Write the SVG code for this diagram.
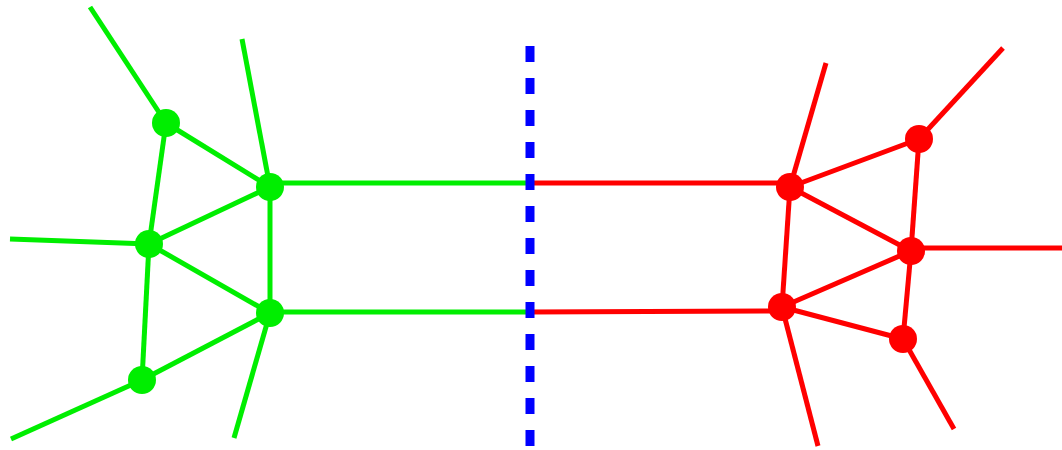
<svg xmlns="http://www.w3.org/2000/svg" width="1062" height="450" viewBox="0 0 1062 450">
<style>
.g{stroke:#00ee00;stroke-width:5;fill:none}
.r{stroke:#ff0000;stroke-width:5;fill:none}
.gn{fill:#00ee00}
.rn{fill:#ff0000}
.cut{stroke:#0000ff;stroke-width:9;stroke-dasharray:16 16;fill:none}
</style>
<rect width="1062" height="450" fill="#ffffff"/>
<g id="connectors">
<line class="g" x1="90" y1="7" x2="166" y2="123"/>
<line class="g" x1="242" y1="39" x2="270" y2="187"/>
<line class="g" x1="166" y1="123" x2="270" y2="187"/>
<line class="g" x1="166" y1="123" x2="149" y2="244"/>
<line class="g" x1="10" y1="239" x2="149" y2="244"/>
<line class="g" x1="149" y1="244" x2="270" y2="187"/>
<line class="g" x1="149" y1="244" x2="270" y2="313"/>
<line class="g" x1="149" y1="244" x2="142" y2="380"/>
<line class="g" x1="270" y1="187" x2="270" y2="313"/>
<line class="g" x1="270" y1="183" x2="530" y2="183"/>
<line class="g" x1="270" y1="312" x2="530" y2="312"/>
<line class="g" x1="270" y1="313" x2="234" y2="438"/>
<line class="g" x1="142" y1="380" x2="270" y2="313"/>
<line class="g" x1="142" y1="380" x2="11" y2="439"/>
<line class="r" x1="530" y1="183" x2="790" y2="183"/>
<line class="r" x1="530" y1="312" x2="782" y2="311"/>
<line class="r" x1="826" y1="63" x2="790" y2="187"/>
<line class="r" x1="919" y1="139" x2="1003" y2="48"/>
<line class="r" x1="790" y1="187" x2="919" y2="139"/>
<line class="r" x1="919" y1="139" x2="911" y2="251"/>
<line class="r" x1="790" y1="187" x2="911" y2="251"/>
<line class="r" x1="790" y1="187" x2="782" y2="307"/>
<line class="r" x1="911" y1="248" x2="1062" y2="248"/>
<line class="r" x1="911" y1="251" x2="782" y2="307"/>
<line class="r" x1="911" y1="251" x2="903" y2="339"/>
<line class="r" x1="782" y1="307" x2="903" y2="339"/>
<line class="r" x1="782" y1="307" x2="818" y2="446"/>
<line class="r" x1="903" y1="339" x2="954" y2="429"/>
<line class="cut" x1="530" y1="46" x2="530" y2="447"/>
</g>
<g id="g1"><circle class="gn" cx="166" cy="123" r="14"/></g>
<g id="g2"><circle class="gn" cx="270" cy="187" r="14"/></g>
<g id="g3"><circle class="gn" cx="149" cy="244" r="14"/></g>
<g id="g4"><circle class="gn" cx="270" cy="313" r="14"/></g>
<g id="g5"><circle class="gn" cx="142" cy="380" r="14"/></g>
<g id="r1"><circle class="rn" cx="790" cy="187" r="14"/></g>
<g id="r2"><circle class="rn" cx="919" cy="139" r="14"/></g>
<g id="r3"><circle class="rn" cx="911" cy="251" r="14"/></g>
<g id="r4"><circle class="rn" cx="782" cy="307" r="14"/></g>
<g id="r5"><circle class="rn" cx="903" cy="339" r="14"/></g>
</svg>
